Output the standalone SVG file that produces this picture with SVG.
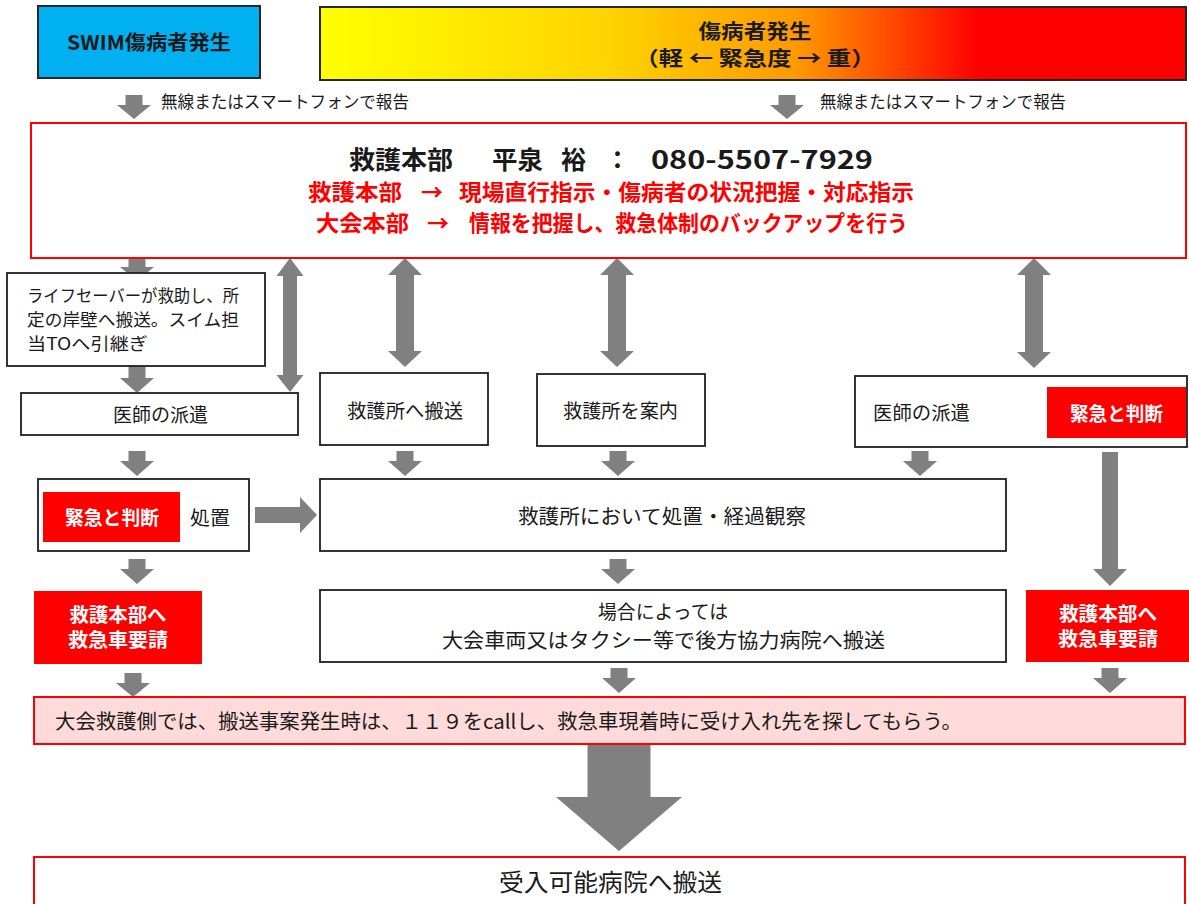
<svg xmlns="http://www.w3.org/2000/svg" width="1189" height="904" viewBox="0 0 1189 904">
<defs>
<linearGradient id="sev" x1="0" y1="0" x2="1" y2="0">
<stop offset="0" stop-color="#FFFF00"/>
<stop offset="0.33" stop-color="#FFD400"/>
<stop offset="0.55" stop-color="#FF9A00"/>
<stop offset="0.76" stop-color="#FF0000"/>
<stop offset="1" stop-color="#FF0000"/>
</linearGradient>
<style>
text{font-family:"Noto Sans CJK JP","Noto Sans",sans-serif;fill:#1a1a1a}
.box{fill:#fff;stroke:#1f1f1f;stroke-width:1.8}
.rbox{fill:#fff;stroke:#FF0000;stroke-width:2}
.red{fill:#FF0000;stroke:none}
.arr{fill:#808080;stroke:none}
.t17{font-size:17px}
.t18{font-size:18px}
.t19{font-size:19px}
.b{font-weight:bold}
.w{fill:#fff}
.rt{fill:#FF0000;font-weight:bold}
.m{text-anchor:middle}
</style>
</defs>
<rect width="1189" height="904" fill="#fff"/>

<g id="connectors">
<polygon class="arr" points="125.5,95 142.5,95 142.5,105 151,105 134,119 117,105 125.5,105"/>
<polygon class="arr" points="778.5,95 795.5,95 795.5,105 804,105 787,119 770,105 778.5,105"/>
<polygon class="arr" points="128.5,258 145.5,258 145.5,267 154,267 137,281 120,267 128.5,267"/>
<polygon class="arr" points="128.5,366 145.5,366 145.5,378 154,378 137,393 120,378 128.5,378"/>
<polygon class="arr" points="128.5,451 145.5,451 145.5,461 154,461 137,476 120,461 128.5,461"/>
<polygon class="arr" points="396.5,451 413.5,451 413.5,461 422,461 405,476 388,461 396.5,461"/>
<polygon class="arr" points="609.5,451 626.5,451 626.5,461 635,461 618,476 601,461 609.5,461"/>
<polygon class="arr" points="911.5,451 928.5,451 928.5,461 937,461 920,476 903,461 911.5,461"/>
<polygon class="arr" points="128.5,559 145.5,559 145.5,569 154,569 137,584 120,569 128.5,569"/>
<polygon class="arr" points="609.5,559 626.5,559 626.5,569 635,569 618,584 601,569 609.5,569"/>
<polygon class="arr" points="124.5,673 141.5,673 141.5,683 150,683 133,697 116,683 124.5,683"/>
<polygon class="arr" points="610.5,668 627.5,668 627.5,678 636,678 619,693 602,678 610.5,678"/>
<polygon class="arr" points="1101.5,668 1118.5,668 1118.5,678 1127,678 1110,693 1093,678 1101.5,678"/>
<polygon class="arr" points="1102,452 1118,452 1118,569 1127,569 1110,586 1093,569 1102,569"/>
<polygon class="arr" points="587.5,745 650.5,745 650.5,797 682,797 619,851 556,797 587.5,797"/>
<polygon class="arr" points="255,507 300,507 300,497 317,515 300,533 300,523 255,523"/>
<polygon class="arr" points="290,258 303.5,276 297,276 297,375 303.5,375 290,392 276.5,375 283,375 283,276 276.5,276"/>
<polygon class="arr" points="405,258 422,275 414,275 414,351 422,351 405,367 388,351 396,351 396,275 388,275"/>
<polygon class="arr" points="617,258 634,275 626,275 626,351 634,351 617,367 600,351 608,351 608,275 600,275"/>
<polygon class="arr" points="1034,258 1051,275 1043,275 1043,352 1051,352 1034,368 1017,352 1025,352 1025,275 1017,275"/>
</g>

<g id="swim">
<rect x="38" y="6" width="222" height="72" fill="#00B0F0" stroke="#262626" stroke-width="2"/>
<text class="b m" x="149" y="50" font-size="20" textLength="164" lengthAdjust="spacingAndGlyphs">SWIM傷病者発生</text>
</g>

<g id="severity">
<rect x="320" y="7" width="866" height="73" fill="url(#sev)" stroke="#262626" stroke-width="2"/>
<text class="b m" x="755" y="39" font-size="20" textLength="113" lengthAdjust="spacingAndGlyphs">傷病者発生</text>
<text class="b m" x="755" y="66" font-size="20" textLength="241" lengthAdjust="spacingAndGlyphs">（軽 ← 緊急度 → 重）</text>
</g>

<g id="report-labels">
<text class="t17" x="161" y="108" textLength="248" lengthAdjust="spacingAndGlyphs">無線またはスマートフォンで報告</text>
<text class="t17" x="820" y="108" textLength="246" lengthAdjust="spacingAndGlyphs">無線またはスマートフォンで報告</text>
</g>

<g id="hq">
<rect class="rbox" x="31" y="123" width="1155" height="135"/>
<text class="b" font-size="25" y="169"><tspan x="349" textLength="104" lengthAdjust="spacingAndGlyphs">救護本部</tspan><tspan x="492" textLength="51" lengthAdjust="spacingAndGlyphs">平泉</tspan><tspan x="561">裕</tspan><tspan x="605">：</tspan><tspan x="651" textLength="222" lengthAdjust="spacingAndGlyphs">080-5507-7929</tspan></text>
<text class="rt" font-size="22" y="200"><tspan x="308" textLength="94" lengthAdjust="spacingAndGlyphs">救護本部</tspan><tspan x="421">→</tspan><tspan x="459" textLength="455" lengthAdjust="spacingAndGlyphs">現場直行指示・傷病者の状況把握・対応指示</tspan></text>
<text class="rt" font-size="22" y="231"><tspan x="316" textLength="93" lengthAdjust="spacingAndGlyphs">大会本部</tspan><tspan x="427">→</tspan><tspan x="469" textLength="439" lengthAdjust="spacingAndGlyphs">情報を把握し、救急体制のバックアップを行う</tspan></text>
</g>

<g id="lifesaver">
<rect class="box" x="7" y="273" width="258" height="93"/>
<text class="t17" x="27" y="302" textLength="212" lengthAdjust="spacingAndGlyphs">ライフセーバーが救助し、所</text>
<text class="t17" x="27" y="326" textLength="212" lengthAdjust="spacingAndGlyphs">定の岸壁へ搬送。スイム担</text>
<text class="t17" x="27" y="350" textLength="121" lengthAdjust="spacingAndGlyphs">当TOへ引継ぎ</text>
</g>

<g id="doctor-left">
<rect class="box" x="21" y="393" width="277" height="42"/>
<text class="t19 m" x="160.5" y="422" textLength="95" lengthAdjust="spacingAndGlyphs">医師の派遣</text>
</g>

<g id="transport">
<rect class="box" x="320" y="373" width="168" height="72"/>
<text class="t19 m" x="405" y="418" textLength="116" lengthAdjust="spacingAndGlyphs">救護所へ搬送</text>
</g>

<g id="guide">
<rect class="box" x="537" y="374" width="168" height="72"/>
<text class="t19 m" x="620.5" y="418" textLength="115" lengthAdjust="spacingAndGlyphs">救護所を案内</text>
</g>

<g id="doctor-right">
<rect class="box" x="855" y="376" width="332" height="71"/>
<text class="t19" x="873" y="420" textLength="97" lengthAdjust="spacingAndGlyphs">医師の派遣</text>
<rect class="red" x="1047" y="387" width="139" height="51"/>
<text class="t19 b w m" x="1116.5" y="421" textLength="93" lengthAdjust="spacingAndGlyphs">緊急と判断</text>
</g>

<g id="treat-left">
<rect class="box" x="38" y="479" width="211" height="72"/>
<rect class="red" x="43" y="492" width="137" height="50"/>
<text class="t19 b w m" x="112" y="525" textLength="94" lengthAdjust="spacingAndGlyphs">緊急と判断</text>
<text class="t19" x="190" y="525" textLength="40" lengthAdjust="spacingAndGlyphs">処置</text>
</g>

<g id="observe">
<rect class="box" x="320" y="479" width="686" height="72"/>
<text x="518" y="524" font-size="20" textLength="288" lengthAdjust="spacingAndGlyphs">救護所において処置・経過観察</text>
</g>

<g id="car-transport">
<rect class="box" x="320" y="590" width="686" height="72"/>
<text class="t19" x="598" y="619" textLength="130" lengthAdjust="spacingAndGlyphs">場合によっては</text>
<text x="442" y="648" font-size="20" textLength="443" lengthAdjust="spacingAndGlyphs">大会車両又はタクシー等で後方協力病院へ搬送</text>
</g>

<g id="ambulance-left">
<rect class="red" x="34" y="591" width="168" height="73"/>
<text class="t19 b w m" x="118" y="622" textLength="97" lengthAdjust="spacingAndGlyphs">救護本部へ</text>
<text class="t19 b w m" x="118" y="647" textLength="100" lengthAdjust="spacingAndGlyphs">救急車要請</text>
</g>

<g id="ambulance-right">
<rect class="red" x="1026" y="590" width="163" height="72"/>
<text class="t19 b w m" x="1108" y="621" textLength="98" lengthAdjust="spacingAndGlyphs">救護本部へ</text>
<text class="t19 b w m" x="1108" y="646" textLength="100" lengthAdjust="spacingAndGlyphs">救急車要請</text>
</g>

<g id="call119">
<rect x="34" y="697" width="1151" height="47" fill="#FFDADA" stroke="#FF0000" stroke-width="2"/>
<text x="55" y="729" font-size="20" textLength="907" lengthAdjust="spacingAndGlyphs">大会救護側では、搬送事案発生時は、１１９をcallし、救急車現着時に受け入れ先を探してもらう。</text>
</g>

<g id="hospital">
<rect class="rbox" x="34" y="857" width="1151" height="60"/>
<text x="499" y="891" font-size="24" textLength="223" lengthAdjust="spacingAndGlyphs">受入可能病院へ搬送</text>
</g>
</svg>
